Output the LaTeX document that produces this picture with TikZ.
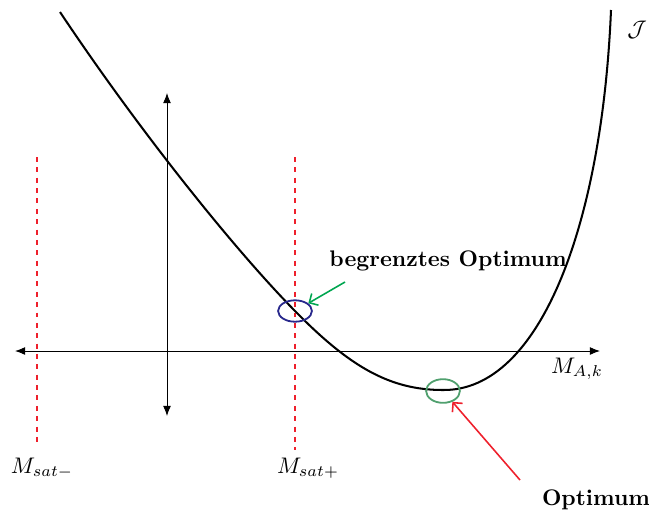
\documentclass[tikz,border=0pt]{standalone}
\usepackage{amsmath}
\usepackage{xcolor}
\usepackage{tikz}
\usetikzlibrary{arrows.meta,shapes.geometric}
\definecolor{satred}{RGB}{238,32,44}
\definecolor{hintgreen}{RGB}{0,166,80}
\definecolor{ringblue}{RGB}{40,40,140}
\definecolor{ringgreen}{RGB}{80,160,110}
\tikzset{
  achse/.style={thin,{Latex[length=4.5pt,width=3.5pt]}-{Latex[length=4.5pt,width=3.5pt]}},
  satlinie/.style={satred,line width=0.9pt,dash pattern=on 2.2pt off 2.4pt},
  ring/.style={draw,ellipse,line width=0.8pt,inner sep=0pt},
  hinweis/.style={line width=0.7pt,-{Straight Barb[length=3pt,width=6pt]}},
  marke/.style={font=\normalsize}
}

\begin{document}
\begin{tikzpicture}[x=0.0156cm,y=-0.0156cm]
  \useasboundingbox (0,0) rectangle (649,510);
  % Achsen
  \coordinate (xl) at (15,351);  \coordinate (xr) at (600,351);
  \coordinate (yo) at (167,93);  \coordinate (yu) at (167,416);
  \draw[achse] (xl) -- (xr);
  \draw[achse] (yo) -- (yu);
  % Saettigungsgrenzen
  \coordinate (sm1) at (37,157);  \coordinate (sm2) at (37,445);
  \coordinate (sp1) at (295,157); \coordinate (sp2) at (295,450);
  \draw[satlinie] (sm1) -- (sm2);
  \draw[satlinie] (sp1) -- (sp2);
  % Kostenfunktion
  \draw[line width=0.9pt] (60,12) .. controls (140,132) and (235,250) .. (295,311)
    .. controls (350,367) and (390,390) .. (443,390)
    .. controls (540,391) and (602,225) .. (611,10);
  % Markierungen
  \node[ring,ringblue,minimum width=15pt,minimum height=9.5pt] (bopt) at (295,311) {};
  \node[ring,ringgreen,minimum width=15pt,minimum height=10.5pt] (gopt) at (443,391) {};
  % Beschriftungen
  \node[marke] (msatm) at (42,468) {$M_{sat-}$};
  \node[marke] (msatp) at (308,468) {$M_{sat+}$};
  \node[marke] (mak) at (577,369) {$M_{A,k}$};
  \node[marke] (jlab) at (637,30) {$\mathcal{J}$};
  \node[marke] (begr) at (448,261) {\textbf{begrenztes Optimum}};
  \node[marke] (opt) at (596,500) {\textbf{Optimum}};
  \coordinate (gstart) at (345,282);
  \coordinate (rstart) at (520,480);
  \draw[hinweis,hintgreen] (gstart) -- (bopt);
  \draw[hinweis,satred] (rstart) -- (gopt);
\end{tikzpicture}
\end{document}
